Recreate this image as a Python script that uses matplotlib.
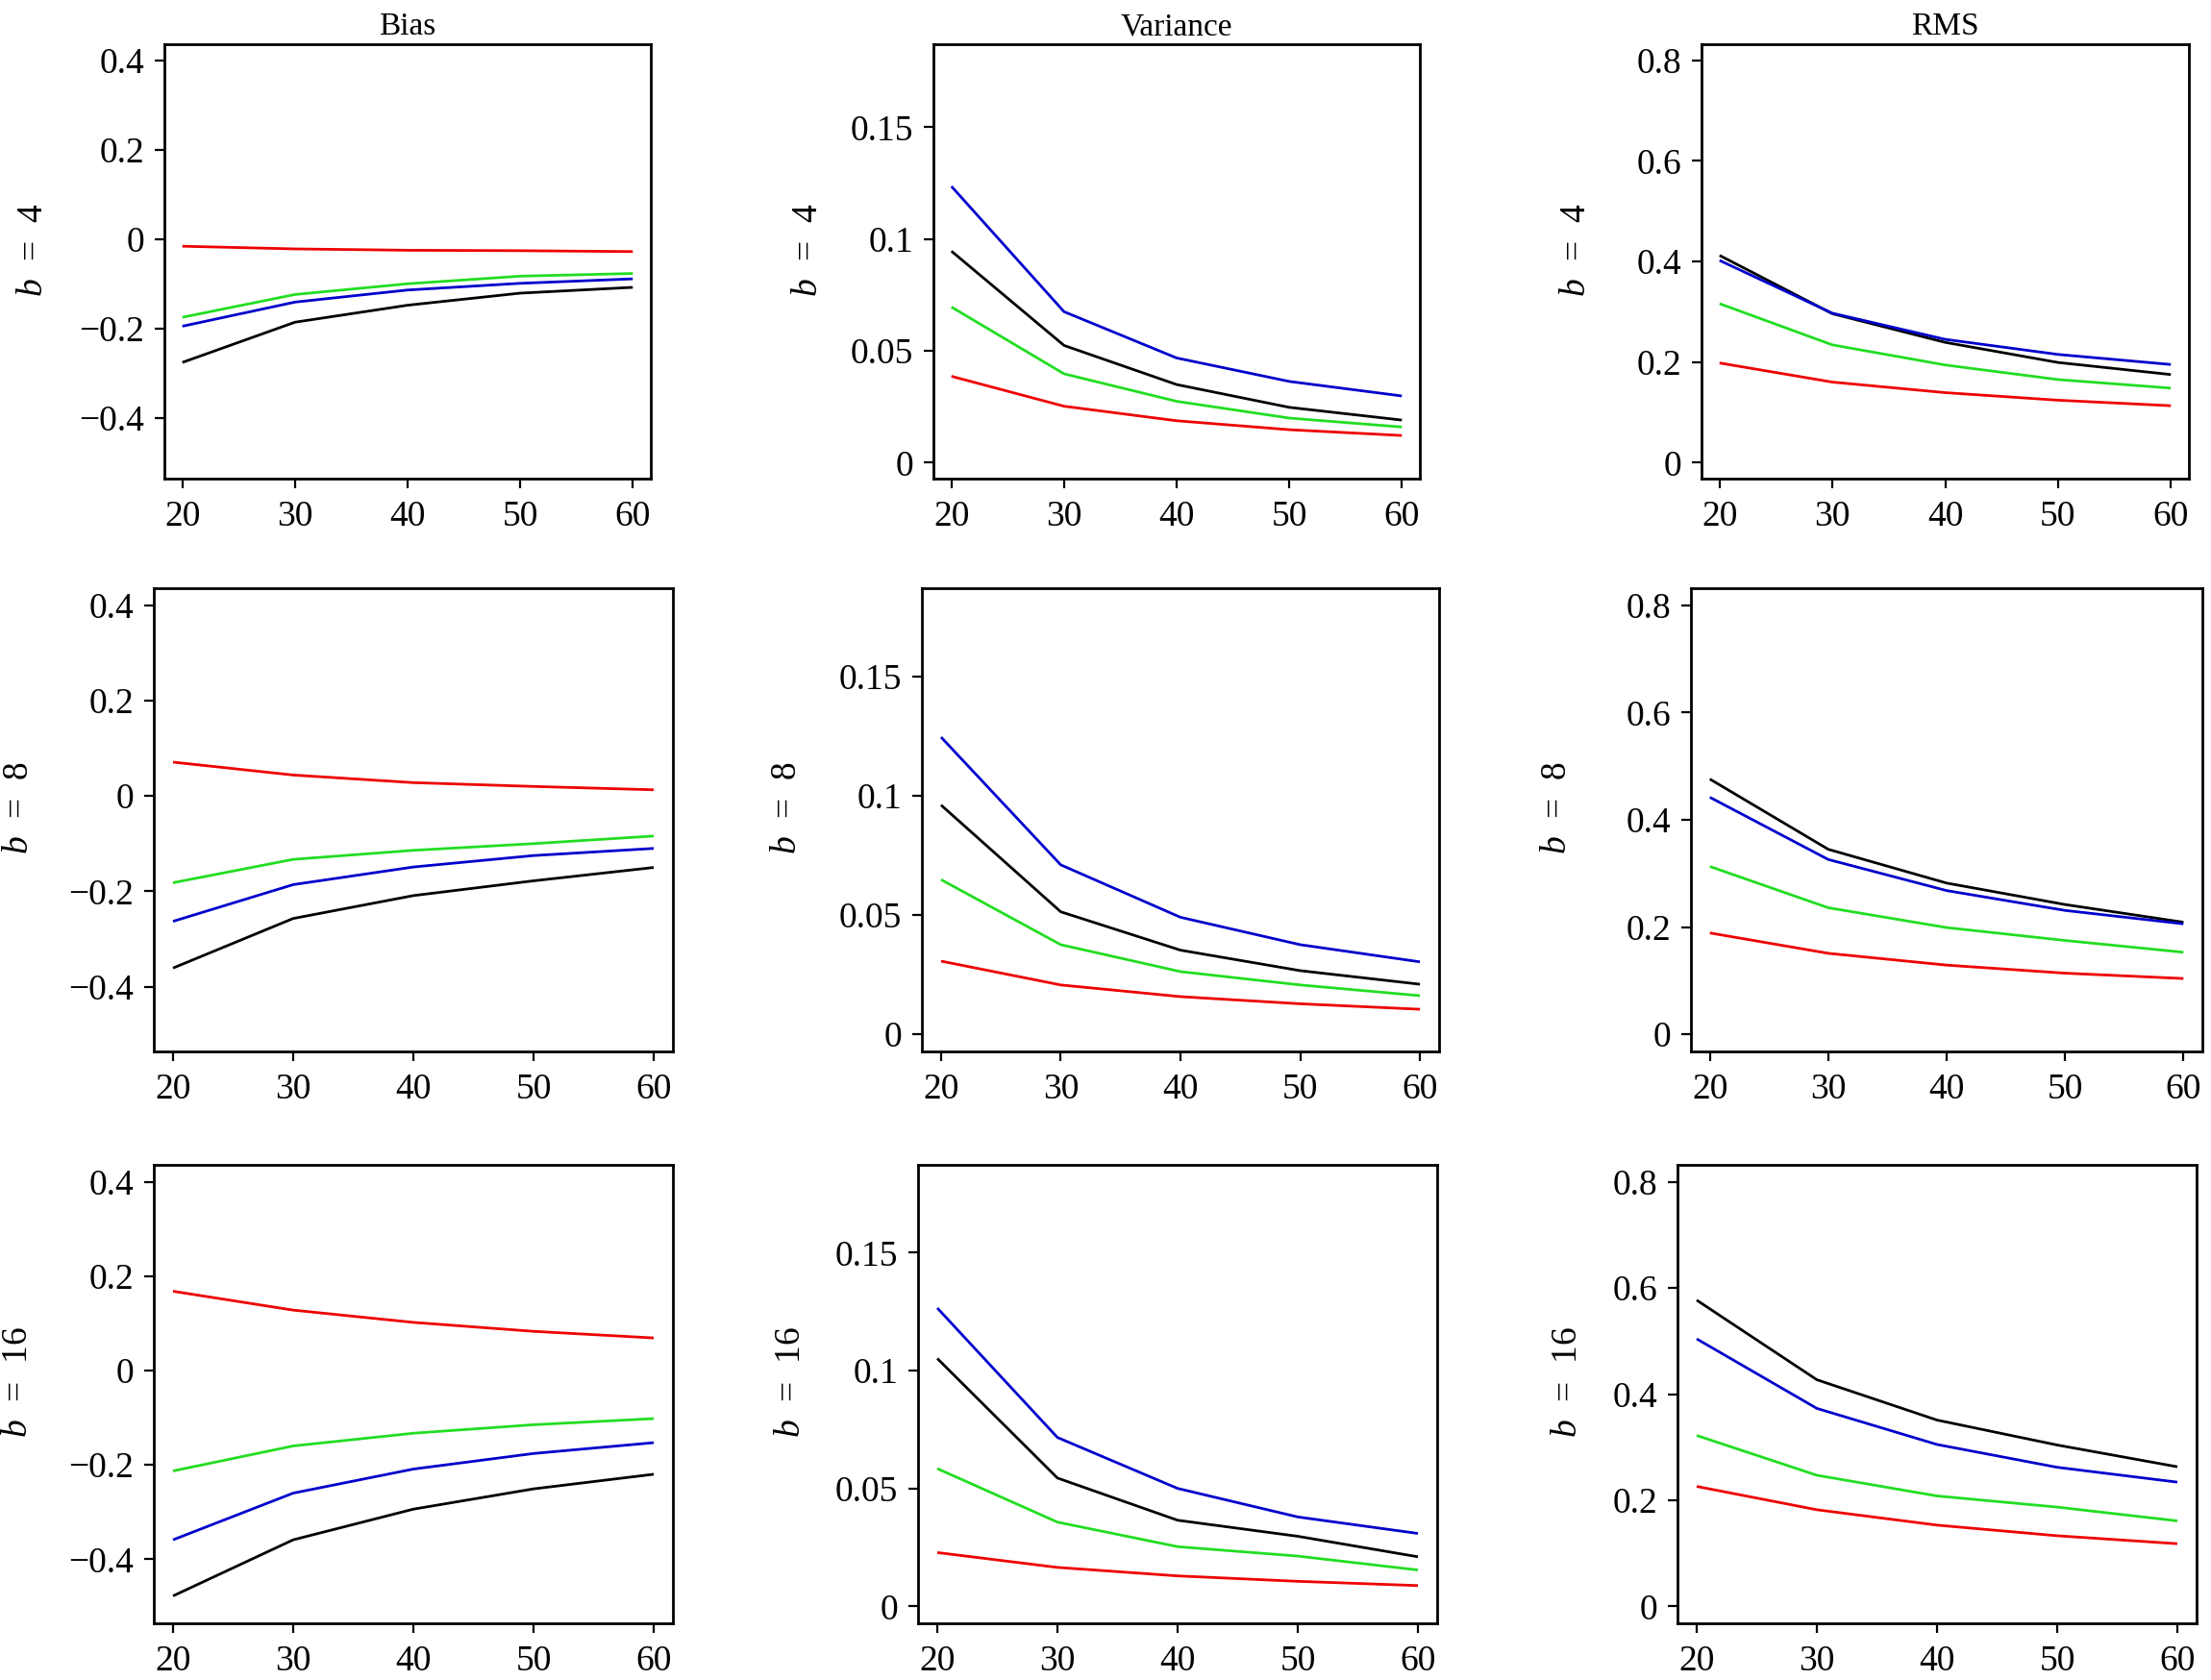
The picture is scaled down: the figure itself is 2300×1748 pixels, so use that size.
import matplotlib
matplotlib.use("Agg")
import matplotlib.pyplot as plt

plt.rcParams['font.family'] = ['Liberation Serif', 'DejaVu Serif']
plt.rcParams['mathtext.fontset'] = 'custom'
plt.rcParams['mathtext.it'] = 'Liberation Serif:italic'
plt.rcParams['mathtext.rm'] = 'Liberation Serif'

# ---------------- data ----------------
n_values = [20, 30, 40, 50, 60]
series_names = ["black", "blue", "green", "red"]
series_colors = ["#000000", "#0000CC", "#22DD22", "#EE0000"]

col_titles = ["Bias", "Variance", "RMS"]
row_labels = ["4", "8", "16"]

bias_b4 = [[-0.276, -0.186, -0.148, -0.121, -0.108],
           [-0.195, -0.141, -0.114, -0.099, -0.089],
           [-0.175, -0.124, -0.100, -0.083, -0.077],
           [-0.016, -0.022, -0.025, -0.026, -0.028]]
var_b4 = [[0.0946, 0.0524, 0.0349, 0.0247, 0.0190],
          [0.1236, 0.0675, 0.0468, 0.0363, 0.0298],
          [0.0696, 0.0397, 0.0274, 0.0199, 0.0159],
          [0.0386, 0.0252, 0.0187, 0.0147, 0.0121]]
rms_b4 = [[0.412, 0.296, 0.239, 0.199, 0.175],
          [0.402, 0.297, 0.245, 0.215, 0.195],
          [0.316, 0.234, 0.194, 0.165, 0.148],
          [0.198, 0.160, 0.139, 0.124, 0.113]]

bias_b8 = [[-0.361, -0.257, -0.209, -0.178, -0.150],
           [-0.263, -0.186, -0.149, -0.125, -0.110],
           [-0.182, -0.133, -0.114, -0.100, -0.084],
           [0.071, 0.044, 0.028, 0.020, 0.013]]
var_b8 = [[0.0962, 0.0514, 0.0353, 0.0267, 0.0210],
          [0.1247, 0.0711, 0.0491, 0.0376, 0.0304],
          [0.0649, 0.0376, 0.0263, 0.0207, 0.0162],
          [0.0307, 0.0207, 0.0158, 0.0128, 0.0105]]
rms_b8 = [[0.476, 0.345, 0.282, 0.242, 0.209],
          [0.442, 0.326, 0.268, 0.231, 0.206],
          [0.313, 0.236, 0.199, 0.175, 0.153],
          [0.189, 0.151, 0.129, 0.114, 0.104]]

bias_b16 = [[-0.478, -0.359, -0.294, -0.251, -0.220],
            [-0.359, -0.260, -0.209, -0.176, -0.153],
            [-0.213, -0.160, -0.133, -0.115, -0.102],
            [0.168, 0.128, 0.102, 0.083, 0.069]]
var_b16 = [[0.1051, 0.0544, 0.0365, 0.0297, 0.0210],
           [0.1265, 0.0716, 0.0500, 0.0379, 0.0309],
           [0.0584, 0.0357, 0.0253, 0.0213, 0.0154],
           [0.0228, 0.0165, 0.0129, 0.0106, 0.0088]]
rms_b16 = [[0.577, 0.427, 0.351, 0.304, 0.263],
           [0.504, 0.373, 0.305, 0.262, 0.234],
           [0.322, 0.247, 0.208, 0.187, 0.161],
           [0.226, 0.182, 0.153, 0.133, 0.118]]

bias_ticks = [-0.4, -0.2, 0, 0.2, 0.4]
bias_ticklabels = ["\u22120.4", "\u22120.2", "0", "0.2", "0.4"]
var_ticks = [0, 0.05, 0.1, 0.15]
var_ticklabels = ["0", "0.05", "0.1", "0.15"]
rms_ticks = [0, 0.2, 0.4, 0.6, 0.8]
rms_ticklabels = ["0", "0.2", "0.4", "0.6", "0.8"]
x_ticks = [20, 30, 40, 50, 60]

panel_data = [[bias_b4, var_b4, rms_b4],
              [bias_b8, var_b8, rms_b8],
              [bias_b16, var_b16, rms_b16]]

# ---------------- layout (pixels) ----------------
W, H = 2300, 1748
fig = plt.figure(figsize=(W / 100, H / 100), dpi=100)

rows_tb = [(46, 498), (612, 1094), (1212, 1689)]
cols_lr = [[(171, 677), (971, 1477), (1770, 2277)],
           [(160, 700), (959, 1497), (1759, 2291)],
           [(160, 700), (955, 1495), (1745, 2285)]]
ylabel_x = [[35, 841, 1640], [20, 819, 1620], [19, 823, 1631]]

def expand(lo, hi, f=0.04):
    d = (hi - lo) * f
    return lo - d, hi + d

ylims = [expand(-0.5, 0.4), expand(0.0, 0.18), expand(0.0, 0.8)]
yticks = [(bias_ticks, bias_ticklabels), (var_ticks, var_ticklabels),
          (rms_ticks, rms_ticklabels)]

for r in range(3):
    top, bot = rows_tb[r]
    for c in range(3):
        l, rr = cols_lr[r][c]
        ax = fig.add_axes([l / W, 1 - bot / H, (rr - l) / W, (bot - top) / H])
        data = panel_data[r][c]
        for vals, col in zip(data, series_colors):
            ax.plot(n_values, vals, color=col, lw=2.0, solid_capstyle='butt')
        ax.set_xlim(*expand(20, 60))
        ax.set_ylim(*ylims[c])
        ax.set_xticks(x_ticks)
        ax.set_xticklabels([str(v) for v in x_ticks])
        ax.set_yticks(yticks[c][0])
        ax.set_yticklabels(yticks[c][1])
        ax.tick_params(axis='both', direction='out', length=7, width=1.6,
                       labelsize=27, top=False, right=False)
        ax.tick_params(axis='x', pad=9)
        ax.tick_params(axis='y', pad=8)
        for sp in ax.spines.values():
            sp.set_linewidth(2.0)
        ax.set_ylabel(r"$b$  =  " + row_labels[r], fontsize=27, va='center')
        yc = 1 - ((top + bot) / 2 - 12) / H
        ax.yaxis.set_label_coords(ylabel_x[r][c] / W, yc, transform=fig.transFigure)
        if r == 0:
            ax.set_title(col_titles[c], fontsize=24, pad=7)

fig.savefig("out.png", dpi=100)
